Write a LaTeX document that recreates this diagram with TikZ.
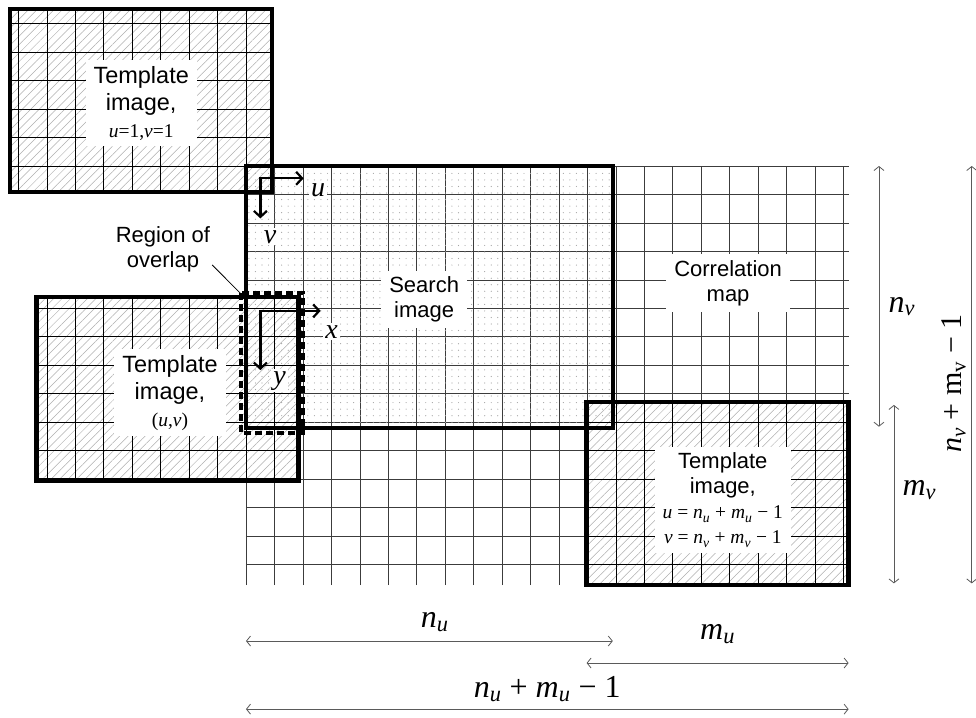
\documentclass[tikz,border=0pt]{standalone}
\usepackage[no-math]{fontspec}
\setmainfont{Liberation Sans}
\newfontfamily\tms{Liberation Serif}
\usepackage{tikz}
\usetikzlibrary{arrows.meta,patterns.meta}
\definecolor{gridc}{RGB}{60,60,60}
\definecolor{hatchc}{RGB}{175,175,175}
\definecolor{dotc}{RGB}{165,165,165}
\definecolor{dimc}{RGB}{90,90,90}

\tikzdeclarepattern{
  name=searchdots, type=uncolored,
  bounding box={(-1pt,-1pt) and (1pt,1pt)},
  tile size={(6.55pt,6.55pt)},
  code={\fill (0pt,0pt) circle (0.6pt);}
}

\newcommand\tsz{\fontsize{22}{25}\selectfont}
\newcommand\msz{\tms\fontsize{19.5}{23}\selectfont}
% italic symbol with italic index
\newcommand\sym[2]{\textit{#1}\textsubscript{\textit{#2}}}

\begin{document}
\begin{tikzpicture}[x=26.2pt, y=26.2pt,
  tmplfill/.style={pattern={Lines[angle=45,distance=6pt,line width=0.5pt]}, pattern color=hatchc},
  srchfill/.style={pattern=searchdots, pattern color=dotc},
  cellgrid/.style={gridc, line width=0.6pt},
  boldedge/.style={line width=4.5pt, line join=miter},
  lbl/.style={fill=white, align=center, font=\tsz, inner xsep=8pt, inner ysep=6pt},
  axlbl/.style={fill=white, font=\tms\fontsize{28}{28}\selectfont\itshape, inner sep=2pt},
  axis/.style={{Straight Barb[length=6pt,width=13pt]}-{Straight Barb[length=6pt,width=13pt]}, line width=2.2pt, line join=miter},
  dimarrow/.style={{Straight Barb[length=4pt,width=10pt]}-{Straight Barb[length=4pt,width=10pt]}, dimc, line width=0.8pt},
  dimlbl/.style={font=\tms\fontsize{32}{32}\selectfont, inner sep=1pt}]
  \useasboundingbox (-9.389,6.336) rectangle (27.863,-21.031);

  % correlation map and search image (one cell = 1)
  \draw[cellgrid] (0,-16) grid (23,0);
  \fill[srchfill] (0,-10) rectangle (14,0);

  % template images: u=1,v=1 ; (u,v) ; last position
  \fill[tmplfill] (-9,-1) rectangle (1,6);
  \draw[cellgrid, black] (-9,-1) grid (1,6);
  \fill[tmplfill] (-8,-12) rectangle (2,-5);
  \draw[cellgrid, black] (-8,-12) grid (2,-5);
  \fill[tmplfill] (13,-16) rectangle (23,-9);
  \draw[cellgrid, black] (13,-16) grid (23,-9);

  % heavy outlines
  \draw[boldedge] (0,-10) rectangle (14,0);
  \draw[boldedge] (-9,-1) rectangle (1,6);
  \draw[boldedge] (-8,-12) rectangle (2,-5);
  \draw[boldedge] (13,-16) rectangle (23,-9);

  % region of overlap
  \draw[line width=3.5pt, dash pattern=on 7pt off 4pt] (-0.19,-4.85) rectangle (2.18,-10.19);
  \node[font=\tsz, align=center, inner sep=2pt] (ovl) at (-3.17,-3.17) {Region of\\overlap};
  \coordinate (ovlc) at (-0.12,-4.95);
  \draw[line width=0.8pt] ([yshift=9pt]ovl.south east) -- (ovlc);

  % labels
  \node[lbl, font=\fontsize{23.5}{27}\selectfont] (tplA) at (-4,2.4) {Template\\image,\\{\msz\textit{u}=1,\textit{v}=1}};
  \node[lbl, font=\fontsize{23.5}{27}\selectfont] (tplB) at (-2.9,-8.66) {Template\\image,\\{\msz(\textit{u},\textit{v})}};
  \node[lbl] (tplC) at (18.2,-12.75) {Template\\image,\\{\msz\textit{u} = \sym{n}{u} + \sym{m}{u} − 1}\\{\msz\textit{v} = \sym{n}{v} + \sym{m}{v} − 1}};
  \node[lbl] (srch) at (6.8,-5.1) {Search\\image};
  \node[lbl] (cmap) at (18.4,-4.47) {Correlation\\map};

  % shift axes
  \coordinate (uvo) at (0.55,-0.47);
  \coordinate (uend) at (2.2,-0.47);
  \coordinate (vend) at (0.55,-2.0);
  \draw[axis] (vend) -- (uvo) -- (uend);
  \node[axlbl] (ulbl) at (2.75,-0.92) {u};
  \node[axlbl] (vlbl) at (0.92,-2.7) {v};
  \coordinate (xyo) at (0.55,-5.53);
  \coordinate (xend) at (2.85,-5.53);
  \coordinate (yend) at (0.55,-7.79);
  \draw[axis] (yend) -- (xyo) -- (xend);
  \node[axlbl] (xlbl) at (3.27,-6.32) {x};
  \node[axlbl] (ylbl) at (1.28,-8.2) {y};

  % dimensions, horizontal
  \coordinate (nuA) at (0,-18.13);
  \coordinate (nuB) at (14,-18.13);
  \coordinate (muA) at (13,-18.97);
  \coordinate (muB) at (23,-18.97);
  \coordinate (totA) at (0,-20.73);
  \coordinate (totB) at (23,-20.73);
  \draw[dimarrow] (nuA) -- (nuB);
  \draw[dimarrow] (muA) -- (muB);
  \draw[dimarrow] (totA) -- (totB);
  \node[dimlbl] (nulbl) at (7.2,-17.4) {\sym{n}{u}};
  \node[dimlbl] (mulbl) at (18,-17.86) {\sym{m}{u}};
  \node[dimlbl] (totlbl) at (11.5,-19.96) {\sym{n}{u} + \sym{m}{u} − 1};

  % dimensions, vertical
  \coordinate (nvA) at (24.16,0);
  \coordinate (nvB) at (24.16,-9.95);
  \coordinate (mvA) at (24.73,-9.12);
  \coordinate (mvB) at (24.73,-15.93);
  \coordinate (tvA) at (27.7,0);
  \coordinate (tvB) at (27.7,-15.93);
  \draw[dimarrow] (nvA) -- (nvB);
  \draw[dimarrow] (mvA) -- (mvB);
  \draw[dimarrow] (tvA) -- (tvB);
  \node[dimlbl] (nvlbl) at (25.03,-5.37) {\sym{n}{v}};
  \node[dimlbl] (mvlbl) at (25.7,-12.37) {\sym{m}{v}};
  \node[dimlbl, font=\tms\fontsize{30}{30}\selectfont, rotate=90] (tvlbl) at (27.02,-8.3) {\sym{n}{v} + m\textsubscript{v} − 1};
\end{tikzpicture}
\end{document}
